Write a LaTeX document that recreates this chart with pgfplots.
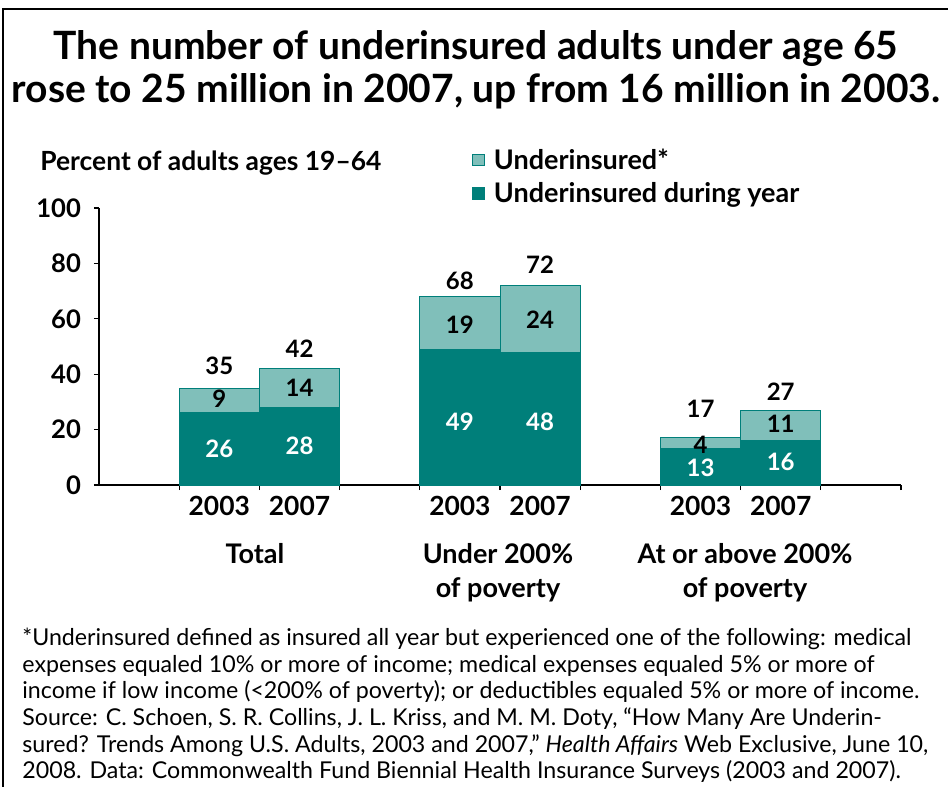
\documentclass[border=0pt]{standalone}
\usepackage{pgfplots}
\pgfplotsset{compat=1.18}
\usepackage{fontspec}
\setmainfont{Lato}
\definecolor{dteal}{RGB}{0,127,122}
\definecolor{lteal}{RGB}{128,191,186}
\tikzset{lab/.style={font=\bfseries\fontsize{12}{14}\selectfont}}
\begin{document}
\begin{tikzpicture}
\useasboundingbox (0,0) rectangle (474pt,-393.5pt);
\draw[line width=0.9pt] (1.5pt,-4.5pt) rectangle (480pt,-400pt);
\begin{axis}[
  at={(49.5pt,-242.5pt)}, anchor=south west,
  scale only axis, width=401pt, height=138.5pt,
  xmin=0, xmax=10, ymin=0, ymax=100,
  ybar stacked, bar width=1,
  axis x line*=bottom, axis y line*=left,
  axis line style={line width=0.6pt, -},
  xtick={1,...,10}, xticklabels={},
  extra x ticks={1.5,2.5,4.5,5.5,7.5,8.5},
  extra x tick labels={2003,2007,2003,2007,2003,2007},
  extra x tick style={major tick length=0pt, tick label style={anchor=base, yshift=-15pt, font=\bfseries\fontsize{13.2}{15}\selectfont}},
  ytick={0,20,...,100}, yticklabels={0,20,40,60,80,100},
  tick align=outside, major tick length=2.5pt,
  tick style={black, line width=0.6pt},
  yticklabel style={font=\bfseries\fontsize{12.8}{14}\selectfont, xshift=-3pt},
  legend style={at={(0.4576,1.245)}, anchor=north west, draw=none, fill=none,
    font=\bfseries\fontsize{13.5}{16}\selectfont, row sep=1pt,
    /tikz/every odd column/.append style={column sep=2.5pt}},
  legend cell align=left,
  reverse legend,
  legend image code/.code={\draw[#1] (0pt,-2.8pt) rectangle (5.8pt,3pt);},
  clip=false,
]
\addplot[fill=dteal, draw=dteal, line width=0.5pt] coordinates {(1.5,26)(2.5,28)(4.5,49)(5.5,48)(7.5,13)(8.5,16)};
\addplot[fill=lteal, draw=dteal, line width=0.5pt] coordinates {(1.5,9)(2.5,14)(4.5,19)(5.5,24)(7.5,4)(8.5,11)};
\legend{Underinsured during year, Underinsured*}
\coordinate (w1) at (axis cs:1.5,13);
\coordinate (w2) at (axis cs:2.5,14);
\coordinate (w3) at (axis cs:4.5,22.7);
\coordinate (w4) at (axis cs:5.5,22.7);
\coordinate (w5) at (axis cs:7.5,6.1);
\coordinate (w6) at (axis cs:8.5,8.3);
\coordinate (b1) at (axis cs:1.5,31.2);
\coordinate (b2) at (axis cs:2.5,35.2);
\coordinate (b3) at (axis cs:4.5,58);
\coordinate (b4) at (axis cs:5.5,59.6);
\coordinate (b5) at (axis cs:7.5,14.6);
\coordinate (b6) at (axis cs:8.5,22.2);
\coordinate (t1) at (axis cs:1.5,43);
\coordinate (t2) at (axis cs:2.5,49.1);
\coordinate (t3) at (axis cs:4.5,73.6);
\coordinate (t4) at (axis cs:5.5,79.4);
\coordinate (t5) at (axis cs:7.5,27.4);
\coordinate (t6) at (axis cs:8.5,33.6);
\end{axis}
\node[lab,white] at (w1) {26};
\node[lab,white] at (w2) {28};
\node[lab,white] at (w3) {49};
\node[lab,white] at (w4) {48};
\node[lab,white] at (w5) {13};
\node[lab,white] at (w6) {16};
\node[lab] at (b1) {9};
\node[lab] at (b2) {14};
\node[lab] at (b3) {19};
\node[lab] at (b4) {24};
\node[lab] at (b5) {4};
\node[lab] at (b6) {11};
\node[lab] at (t1) {35};
\node[lab] at (t2) {42};
\node[lab] at (t3) {68};
\node[lab] at (t4) {72};
\node[lab] at (t5) {17};
\node[lab] at (t6) {27};
\begin{scope}[x=0.5pt, y=-0.5pt]
\node[anchor=base, font=\bfseries\fontsize{19.5}{23}\selectfont] at (476,59) {The number of underinsured adults under age 65};
\node[anchor=base, font=\bfseries\fontsize{19.5}{23}\selectfont] at (476,102) {rose to 25 million in 2007, up from 16 million in 2003.};
\node[anchor=base west, inner sep=0pt, font=\bfseries\fontsize{13.2}{15}\selectfont] at (40,170) {Percent of adults ages 19–64};
\begin{scope}[every node/.style={anchor=base, inner sep=0pt, font=\bfseries\fontsize{13.5}{16}\selectfont}]
\node at (255,563) {Total};
\node at (498,563) {Under 200\%};
\node at (498,597) {of poverty};
\node at (745,563) {At or above 200\%};
\node at (745,597) {of poverty};
\end{scope}
\begin{scope}[every node/.style={anchor=base west, inner sep=0pt, font=\fontsize{11.6}{13}\selectfont}]
\node at (22,645) {*Underinsured defined as insured all year but experienced one of the following: medical};
\node at (22,672) {expenses equaled 10\% or more of income; medical expenses equaled 5\% or more of};
\node at (22,698) {income if low income (<200\% of poverty); or deductibles equaled 5\% or more of income.};
\node at (22,725) {Source: C. Schoen, S. R. Collins, J. L. Kriss, and M. M. Doty, “How Many Are Underin-};
\node at (22,752) {sured? Trends Among U.S. Adults, 2003 and 2007,” \textit{Health Affairs} Web Exclusive, June 10,};
\node at (22,778) {2008. Data: Commonwealth Fund Biennial Health Insurance Surveys (2003 and 2007).};
\end{scope}
\end{scope}
\end{tikzpicture}
\end{document}
